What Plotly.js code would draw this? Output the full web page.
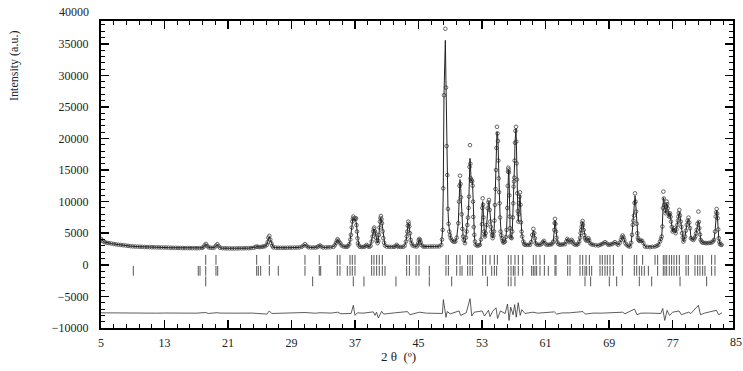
<!DOCTYPE html>
<html><head><meta charset="utf-8">
<script src="https://cdn.plot.ly/plotly-3.0.1.min.js"></script>
<style>html,body{margin:0;padding:0;background:#fff;} #chart{width:743px;height:371px;}</style>
</head><body><div id="chart"></div>
<script>
// 2-theta positions of observed points (degrees)
const tth = [
5.00,5.15,5.30,5.50,5.75,6.00,6.30,6.60,6.90,7.20,
7.50,7.80,8.10,8.40,8.70,9.00,9.30,9.60,9.90,10.20,
10.50,10.80,11.10,11.40,11.70,12.00,12.30,12.60,12.90,13.20,
13.50,13.80,14.10,14.40,14.70,15.00,15.30,15.60,15.90,16.20,
16.50,16.80,17.10,17.40,17.70,17.90,18.05,18.22,18.38,18.55,
18.80,19.05,19.30,19.48,19.65,19.82,20.00,20.30,20.60,20.90,
21.20,21.50,21.80,22.10,22.40,22.70,23.00,23.30,23.60,23.90,
24.20,24.45,24.60,24.80,25.02,25.25,25.44,25.65,25.87,26.00,
26.08,26.20,26.32,26.45,26.58,26.70,27.00,27.30,27.60,27.90,
28.20,28.50,28.80,29.10,29.40,29.70,30.00,30.27,30.50,30.69,
30.90,31.11,31.40,31.70,32.00,32.25,32.40,32.58,32.75,33.00,
33.30,33.60,33.90,34.26,34.45,34.59,34.70,34.80,34.90,35.01,
35.15,35.31,35.55,35.80,35.94,36.10,36.27,36.40,36.48,36.58,
36.65,36.72,36.78,36.86,36.94,37.02,37.11,37.18,37.24,37.30,
37.36,37.45,37.61,37.85,38.10,38.30,38.45,38.60,38.79,38.95,
39.08,39.20,39.29,39.36,39.42,39.50,39.55,39.63,39.71,39.84,
39.93,40.01,40.08,40.13,40.20,40.26,40.33,40.39,40.47,40.55,
40.65,40.76,41.00,41.30,41.60,41.90,42.10,42.23,42.36,42.48,
42.75,43.07,43.25,43.41,43.50,43.58,43.64,43.70,43.77,43.83,
43.92,44.00,44.12,44.25,44.50,44.75,44.90,44.96,45.03,45.09,
45.18,45.26,45.40,45.59,45.80,46.10,46.40,46.70,47.00,47.30,
47.60,47.86,47.95,48.03,48.11,48.20,48.37,48.45,48.53,48.62,
48.70,48.78,48.87,48.95,49.04,49.20,49.37,49.50,49.63,49.80,
50.00,50.09,50.15,50.21,50.28,50.34,50.42,50.51,50.60,50.68,
50.84,50.95,51.05,51.14,51.22,51.30,51.35,51.41,51.47,51.52,
51.56,51.62,51.68,51.75,51.81,51.86,51.89,51.95,52.02,52.10,
52.19,52.40,52.60,52.73,52.85,52.98,53.03,53.07,53.12,53.17,
53.24,53.30,53.36,53.45,53.57,53.70,53.80,53.87,53.95,54.03,
54.10,54.16,54.25,54.33,54.42,54.50,54.56,54.62,54.69,54.75,
54.81,54.87,54.94,55.00,55.04,55.08,55.15,55.21,55.27,55.33,
55.41,55.50,55.58,55.67,55.78,55.88,56.00,56.09,56.17,56.23,
56.26,56.30,56.34,56.38,56.43,56.47,56.51,56.55,56.63,56.72,
56.80,56.87,56.93,56.97,57.02,57.06,57.10,57.14,57.20,57.27,
57.31,57.35,57.39,57.43,57.50,57.56,57.60,57.64,57.70,57.77,
57.84,57.90,57.98,58.05,58.19,58.30,58.40,58.60,58.80,59.03,
59.18,59.32,59.45,59.57,59.65,59.74,59.90,60.08,60.30,60.50,
60.65,60.79,60.95,61.13,61.35,61.55,61.76,61.90,61.97,62.09,
62.14,62.18,62.24,62.30,62.38,62.47,62.60,62.81,63.00,63.20,
63.44,63.60,63.73,63.85,63.98,64.12,64.28,64.40,64.49,64.70,
64.91,65.10,65.24,65.35,65.41,65.48,65.54,65.60,65.66,65.72,
65.79,65.88,65.96,66.05,66.17,66.28,66.38,66.48,66.59,66.78,
67.00,67.30,67.64,67.85,68.06,68.25,68.48,68.70,68.90,69.10,
69.32,69.52,69.73,69.95,70.15,70.35,70.49,70.60,70.70,70.80,
70.91,71.05,71.21,71.42,71.63,71.78,71.88,71.97,72.05,72.13,
72.20,72.26,72.33,72.39,72.47,72.55,72.62,72.68,72.80,72.89,
73.00,73.14,73.31,73.52,73.80,74.15,74.45,74.78,75.00,75.20,
75.41,75.52,75.62,75.70,75.77,75.83,75.89,75.95,76.03,76.12,
76.18,76.25,76.31,76.37,76.45,76.54,76.60,76.67,76.73,76.79,
76.90,77.00,77.08,77.17,77.28,77.38,77.48,77.59,77.66,77.72,
77.78,77.84,77.92,78.01,78.10,78.18,78.27,78.35,78.45,78.56,
78.66,78.77,78.88,79.00,79.10,79.19,79.31,79.45,79.61,79.75,
79.86,79.95,80.03,80.12,80.24,80.30,80.36,80.45,80.53,80.64,
80.74,80.90,81.10,81.28,81.50,81.70,81.92,82.08,82.21,82.34,
82.42,82.48,82.54,82.61,82.67,82.74,82.80,82.88,82.96,83.08,
83.17];
// observed intensity (a.u.)
const yObs = [
4100,3850,3690,3580,3480,3430,3380,3300,3240,3190,
3150,3100,3060,3010,2960,2920,2900,2880,2870,2850,
2830,2820,2800,2790,2780,2770,2760,2750,2740,2740,
2720,2710,2700,2690,2680,2670,2660,2650,2650,2640,
2640,2640,2630,2640,2680,2800,3100,3320,3000,2780,
2700,2690,2750,3050,3270,2950,2700,2630,2620,2600,
2600,2590,2590,2600,2610,2620,2620,2630,2640,2660,
2700,2800,2900,2830,2800,2850,2900,2950,3160,3600,
4300,4585,4000,3430,3000,2760,2720,2700,2700,2700,
2700,2710,2720,2720,2730,2740,2760,2850,3050,3270,
3000,2800,2740,2740,2740,2800,2950,3060,2900,2750,
2760,2770,2790,2850,3100,3430,3800,4060,3800,3590,
3400,3060,2900,2860,2850,2950,3270,4000,4740,5900,
6850,7300,7640,7300,7375,7200,7375,6300,5270,4200,
3430,3100,2850,2830,2840,2950,3160,2950,2850,3000,
3690,4500,5270,5700,5900,5300,5000,4300,3800,3430,
3800,4740,5900,6850,7400,7740,7200,6590,5300,4220,
3500,3060,2880,2850,2840,2850,2950,3160,2980,2850,
2840,2850,3050,3690,4500,5270,6200,6850,6500,6060,
5000,3950,3400,3060,2950,2900,3100,3430,3900,4110,
3950,3590,3100,2900,2880,2880,2890,2900,2900,2910,
2920,3165,4000,5530,12110,26850,37375,28060,18800,14220,
8850,6500,5270,4700,4220,3900,3690,3650,3690,4300,
6590,10010,12500,14110,12800,10690,8000,5690,4500,3950,
3430,4300,5270,6300,7480,9000,10800,15500,18950,16000,
13690,13300,13430,13200,12530,10000,7590,6000,4750,3700,
3170,3010,3100,3170,4000,6430,9000,10530,9500,7500,
5270,4700,4480,5000,6320,8950,9900,10270,8700,6850,
6000,5270,4700,4220,4600,5270,7000,9480,12000,15000,
18500,21850,20800,19590,16500,13690,11500,9740,7500,5270,
4700,4220,3800,3530,3600,3690,4400,5530,9000,12500,
14740,15380,15100,14640,11000,7640,5800,4480,4300,4220,
5270,7500,9740,12380,13200,13800,16500,19320,21200,21850,
19500,16060,13500,11320,8500,6850,8000,9740,10800,11480,
9500,6740,5270,4500,3700,3300,3170,3150,3150,3170,
3600,4740,5690,5010,4200,3430,3200,3170,3180,3300,
3600,3800,3400,3170,3180,3200,3270,3500,3690,5530,
6600,7270,6500,5270,4300,3590,3300,3170,3200,3250,
3270,3700,4110,3900,3590,3700,3950,3700,3380,3200,
3170,3300,3690,4300,5010,5500,6060,6600,6950,6300,
5530,4700,4220,3950,3800,4000,4220,3900,3430,3250,
3170,3100,3060,3150,3270,3400,3590,3400,3170,3200,
3270,3400,3590,3350,3170,3500,3950,4400,4640,4400,
3950,3400,3160,2950,2900,3500,4740,6320,7000,7800,
9800,11320,10000,8430,6500,5010,4300,3950,3800,3800,
3850,3800,3430,2900,2850,2800,2850,2900,3000,3160,
3690,4100,4480,6060,9000,11590,10500,9480,8700,8160,
9200,10010,9600,8950,8200,7640,7900,8160,7600,6850,
6000,5270,5500,5800,5400,5010,5600,6320,7000,7640,
8200,8690,7800,6850,6000,5010,4300,3690,4000,4480,
5400,6320,7000,7480,6700,5800,4220,4050,3950,4200,
4480,5000,5530,6500,8430,6800,5800,4800,3950,3700,
3530,3480,3450,3430,3450,3500,3530,3700,3950,5270,
7640,8300,8850,8100,7380,5600,4220,3600,3270,3200,
3160];
// calculated profile where it differs from the observed points (peak tops)
const topTth  = [18.22,19.65,26.20,30.69,34.80,36.78,36.94,37.11,39.42,40.26,43.70,45.09,48.37,50.21,51.47,53.07,53.87,54.87,56.30,57.27,57.77,59.45,62.18,65.66,70.70,72.26,75.83,76.25,77.84,79.00,80.24,82.54];
const topCalc = [3250,3200,4400,3200,3950,7250,7100,6900,5600,7350,6600,4000,35530,13500,16850,10000,10000,21060,14900,21590,11100,5450,7000,6750,4500,10950,10640,9700,8350,7300,6950,8600];
// difference curve (shifted)
const tthDiff = [5,6,7,8,9,10,11,12,13,14,15,16,17,18.2,18.5,19.6,20,22,24,25.9,26.2,26.5,28,30,30.7,32,32.6,34,34.8,35.2,36.5,36.78,36.99,37.3,38,39.3,39.51,39.7,39.93,40.35,40.6,42,43.6,43.9,45.1,46,47,48.0,48.12,48.3,48.45,48.6,49.0,50.1,50.3,51.0,51.48,51.7,52.0,53.0,53.3,53.8,54.0,54.3,54.75,54.95,55.3,55.9,56.2,56.4,56.6,56.9,57.1,57.3,57.55,57.8,58.0,58.4,59.4,60,61,62.1,62.4,63,64,65.7,66,67,68,69,70.7,71,72.2,72.5,73,74,75.5,75.75,76.0,76.3,76.6,77.0,77.8,78.1,79.0,79.3,80.24,80.5,81,82.5,82.8,83.2];
const iDiff = [-7600,-7620,-7650,-7630,-7660,-7640,-7620,-7650,-7630,-7640,-7660,-7640,-7650,-7550,-7700,-7580,-7640,-7650,-7640,-7800,-7300,-7700,-7650,-7640,-7550,-7660,-7580,-7640,-7500,-7750,-7700,-6415,-7994,-7600,-7650,-7450,-7994,-7500,-8415,-7363,-7800,-7600,-7400,-7900,-7500,-7650,-7620,-7700,-5520,-7300,-8310,-7400,-7750,-7300,-8000,-7600,-5363,-8100,-7500,-7300,-8100,-7200,-8200,-7400,-6800,-8500,-7300,-7700,-6200,-8800,-6700,-7900,-6300,-8300,-6000,-8000,-7100,-7700,-7500,-7650,-7600,-7450,-7800,-7620,-7600,-7400,-7800,-7640,-7650,-7620,-7500,-7750,-7000,-7900,-7650,-7640,-7700,-6900,-8800,-7200,-8000,-7500,-7300,-7900,-7500,-7700,-6400,-7900,-7650,-7200,-7900,-7600];
// Bragg reflection positions for the three phases
const bragg1 = [18.19,19.48,24.61,26.20,30.69,32.49,34.76,35.10,36.36,36.65,36.99,39.09,39.38,39.72,40.05,40.43,43.50,43.84,44.68,45.05,48.45,48.75,49.80,50.22,51.18,51.48,51.77,53.07,53.45,54.00,54.54,54.92,56.30,56.64,57.14,57.56,58.11,59.45,59.79,60.29,60.84,62.18,62.31,63.78,64.07,65.33,65.67,66.09,66.51,67.85,68.14,68.48,68.77,69.11,69.53,70.66,72.17,72.47,73.22,74.78,75.11,75.82,76.03,76.25,76.58,76.87,77.17,77.50,77.84,78.68,78.97,79.81,80.15,80.44,80.78,81.91,82.33];
const bragg2 = [9.07,17.25,17.47,18.19,19.48,19.70,24.61,24.81,25.11,26.20,27.33,30.69,32.49,32.67,34.76,35.10,36.02,36.36,36.65,36.99,39.09,39.38,39.72,40.05,40.43,40.77,43.50,43.84,44.68,45.05,46.35,48.45,48.75,49.80,50.22,50.47,51.18,51.48,51.77,53.07,53.45,54.21,54.54,54.83,56.30,56.64,56.93,57.14,57.56,58.11,59.24,59.45,59.66,59.87,60.29,60.84,61.34,62.18,62.31,63.78,64.07,65.33,65.67,65.96,66.17,66.51,66.80,67.85,68.14,68.48,68.77,69.11,69.53,70.66,72.17,72.47,72.80,73.10,73.43,73.94,75.11,75.82,76.03,76.25,76.58,76.87,77.17,77.50,77.84,78.68,78.97,79.81,80.15,80.44,80.78,81.07,81.91,82.33];
const bragg3 = [18.19,31.66,36.78,38.12,42.15,46.35,49.17,53.66,56.30,56.64,57.14,65.96,66.67,69.02,69.95,72.80,74.36,77.93,81.28];
const braggLevels = [790, -950, -2620];
// axis range and extra end labels
const xRange = [5, 84.6];
const yRange = [-10000, 38600];
const yTopLabel = 40000;
const xEndLabel = 85;

const yCalc = yObs.map((v, i) => { const k = topTth.indexOf(tth[i]); return k >= 0 ? topCalc[k] : v; });

const FONT = "'Liberation Serif', 'Times New Roman', serif";
const traces = [
  {x: tth, y: yObs, type: 'scatter', mode: 'markers',
   marker: {symbol: 'circle-open', size: 3.6, color: '#555', line: {width: 0.9, color: '#555'}}, hoverinfo: 'skip'},
  {x: tth, y: yCalc, type: 'scatter', mode: 'lines', line: {color: '#222', width: 1}, hoverinfo: 'skip'},
  {x: tthDiff, y: iDiff, type: 'scatter', mode: 'lines', line: {color: '#333', width: 0.8}, hoverinfo: 'skip'}
];
[bragg1, bragg2, bragg3].forEach((b, r) => {
  traces.push({x: b, y: b.map(() => braggLevels[r]), type: 'scatter', mode: 'markers',
    marker: {symbol: 'line-ns', size: 7, color: '#555', line: {width: 1, color: '#555'}}, hoverinfo: 'skip'});
});

const tickFont = {family: FONT, size: 12, color: '#222'};
const axisCommon = {
  ticks: 'inside', ticklen: 8, tickwidth: 1.6, tickcolor: '#000',
  showline: true, linecolor: '#000', linewidth: 2, mirror: 'ticks',
  showgrid: false, zeroline: false, tickformat: 'd', separatethousands: false,
  tickfont: tickFont
};
const layout = {
  width: 743, height: 371,
  margin: {l: 101, r: 10, t: 21, b: 43},
  paper_bgcolor: '#fff', plot_bgcolor: '#fff',
  showlegend: false,
  font: {family: FONT, size: 12, color: '#222'},
  xaxis: Object.assign({}, axisCommon, {range: xRange, tick0: 5, dtick: 8, ticklabelstandoff: 3,
    minor: {dtick: 1.6, tick0: 5, ticks: 'inside', ticklen: 4, tickwidth: 1, tickcolor: '#000', showgrid: false}}),
  yaxis: Object.assign({}, axisCommon, {range: yRange, tick0: 0, dtick: 5000, ticklabelstandoff: 8,
    minor: {dtick: 1000, tick0: 0, ticks: 'inside', ticklen: 4, tickwidth: 1, tickcolor: '#000', showgrid: false}}),
  annotations: [
    {text: String(yTopLabel), xref: 'paper', x: 0, xanchor: 'right', xshift: -10,
     yref: 'paper', y: (yTopLabel - yRange[0]) / (yRange[1] - yRange[0]), yanchor: 'middle',
     showarrow: false, font: tickFont},
    {text: String(xEndLabel), xref: 'paper', x: (xEndLabel - xRange[0]) / (xRange[1] - xRange[0]), xanchor: 'center',
     yref: 'paper', y: 0, yanchor: 'top', yshift: -5, showarrow: false, font: tickFont},
    {text: 'Intensity (a.u.)', xref: 'paper', x: -0.138, xanchor: 'center', yref: 'paper', y: 0.853, yanchor: 'middle',
     textangle: -90, showarrow: false, font: {family: FONT, size: 12, color: '#222'}},
    {text: '2 θ  (º)', xref: 'paper', x: 0.47, xanchor: 'center', yref: 'paper', y: -0.093, yanchor: 'middle',
     showarrow: false, font: {family: FONT, size: 13, color: '#222'}}
  ]
};
Plotly.newPlot('chart', traces, layout, {displayModeBar: false, staticPlot: true});
</script>
</body></html>
